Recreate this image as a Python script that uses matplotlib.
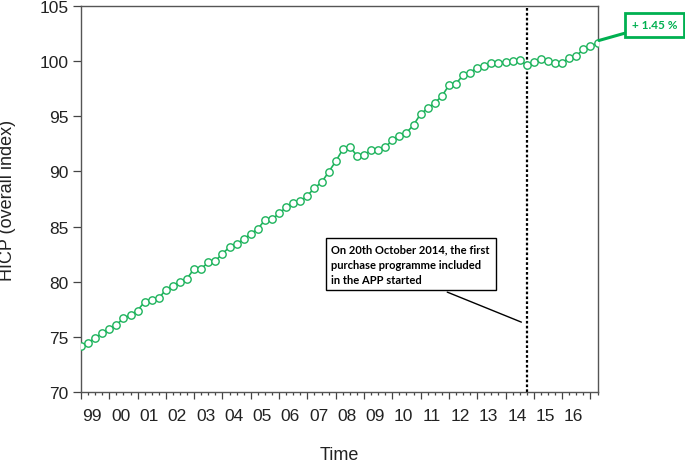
import numpy as np
import matplotlib.pyplot as plt

# ── DATA ──────────────────────────────────────────────────────────────────────
# HICP overall index, quarterly from 1999Q1
start_year = 1999
hicp = [
    74.2, 74.5, 74.9, 75.35, 75.7, 76.1, 76.7, 77.0, 77.4, 78.2,
    78.4, 78.5, 79.3, 79.6, 80.0, 80.3, 81.2, 81.2, 81.75, 81.9,
    82.55, 83.15, 83.45, 83.85, 84.35, 84.8, 85.6, 85.65, 86.2, 86.75,
    87.1, 87.3, 87.8, 88.5, 89.0, 89.95, 90.9, 92.0, 92.25, 91.4,
    91.5, 91.9, 91.9, 92.2, 92.8, 93.2, 93.5, 94.2, 95.2, 95.7,
    96.2, 96.8, 97.8, 97.95, 98.7, 98.95, 99.4, 99.5, 99.8, 99.85,
    99.9, 100.0, 100.1, 99.6, 99.9, 100.2, 100.0, 99.85, 99.8, 100.3,
    100.45, 101.05, 101.35, 101.6,
]
years = list(range(1999, 2017))
year_labels = [f'{y % 100:02d}' for y in years]

app_start = 2014.75
note_text = 'On 20th October 2014, the first\npurchase programme included\nin the APP started'
change_text = '+ 1.45 %'

GREEN = '#1db35c'
BOX_GREEN = '#00b050'

x = start_year + np.arange(len(hicp)) / 4

# ── PLOT ──────────────────────────────────────────────────────────────────────
fig = plt.figure(figsize=(6.85, 4.64), dpi=100)
ax = fig.add_axes([0.1182, 0.1524, 0.7541, 0.8332])

ax.plot(x, hicp, color=GREEN, lw=1.2, marker='o', markersize=5.3,
        markerfacecolor='white', markeredgecolor=GREEN, markeredgewidth=1.0,
        zorder=3)

ax.axvline(app_start, color='black', ls=(0, (1.2, 1.0)), lw=1.6, zorder=2)

ax.set_xlim(start_year, start_year + (len(hicp) - 1) / 4)
ax.set_ylim(70, 105)
ax.set_yticks(np.arange(70, 106, 5))

# ticks: years as major, quarters as minor, labels drawn mid-year
ax.set_xticks(list(years) + [2017])
ax.set_xticklabels([])
ax.set_xticks(np.arange(start_year, 2017.3, 0.25), minor=True)
ax.tick_params(axis='x', which='major', length=5, width=0.9, color='#444444')
ax.tick_params(axis='x', which='minor', length=2.5, width=0.9, color='#444444')
ax.tick_params(axis='y', length=6, width=0.9, color='#444444', pad=3,
               labelsize=12.5, labelcolor='#222222')

for yr, lab in zip(years, year_labels):
    ax.text(yr + 0.4, -0.059, lab, transform=ax.get_xaxis_transform(),
            ha='center', va='center', fontsize=12.5, color='#222222',
            family='Liberation Sans')

for lbl in ax.get_yticklabels():
    lbl.set_family('Liberation Sans')

for sp in ax.spines.values():
    sp.set_color('#555555')
    sp.set_linewidth(1.0)

ax.set_xlabel('Time', fontsize=13, family='Liberation Sans', color='#222222')
ax.xaxis.set_label_coords(0.5, -0.138)
ax.set_ylabel('HICP (overall index)', fontsize=13, family='Liberation Sans',
              color='#222222')
ax.yaxis.set_label_coords(-0.125, 0.5)

# note box with leader line to the APP start
ax.text(2007.85, 83.45, note_text, ha='left', va='top', fontsize=8.0,
        fontweight='bold', family='Lato', linespacing=1.45,
        bbox=dict(boxstyle='square,pad=0.5', facecolor='white',
                  edgecolor='black', lw=1.0), zorder=4)
ax.annotate('', xy=(2014.56, 76.35), xytext=(2011.94, 79.07),
            arrowprops=dict(arrowstyle='-', color='black', lw=1.0,
                            shrinkA=0, shrinkB=0))

# change callout
ax.annotate(change_text, xy=(x[-1] + 0.05, hicp[-1] + 0.25),
            xytext=(0.9555, 0.9443), textcoords='figure fraction',
            ha='center', va='center', fontsize=8.5, fontweight='bold',
            family='Lato', color=BOX_GREEN, annotation_clip=False,
            bbox=dict(boxstyle='square,pad=0.55', facecolor='white',
                      edgecolor=BOX_GREEN, lw=2.0),
            arrowprops=dict(arrowstyle='-', color=BOX_GREEN, lw=2.2,
                            shrinkA=0, shrinkB=0))

plt.savefig('out.png', dpi=100)
